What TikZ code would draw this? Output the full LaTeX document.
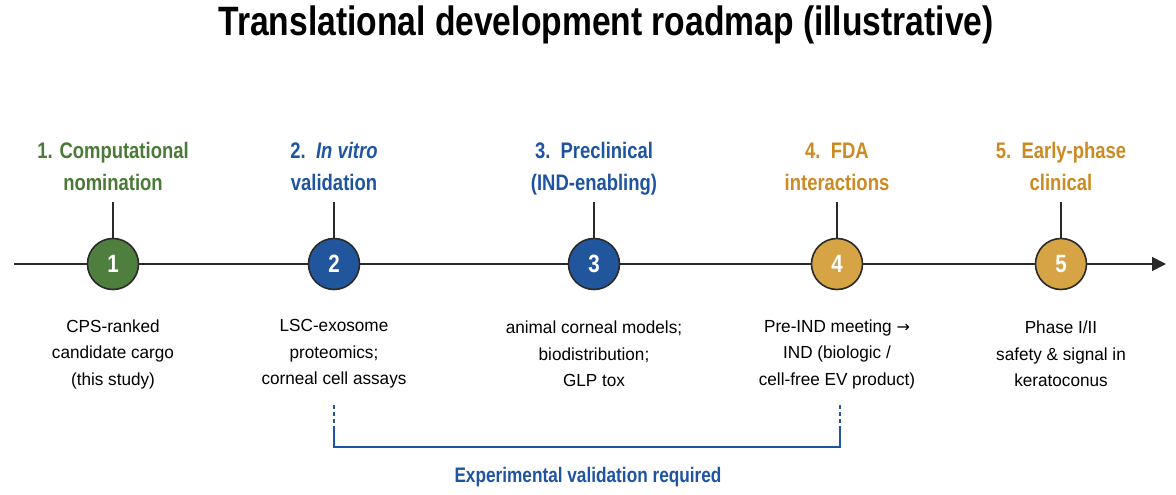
\documentclass[tikz,border=0pt]{standalone}
\usepackage{fontspec}
\setmainfont{Liberation Sans}
\newfontfamily\cond[FakeStretch=0.82]{Liberation Sans}
\newfontfamily\condr[FakeStretch=0.98]{Liberation Sans}
\newfontfamily\arrowfont{DejaVu Sans}
\usetikzlibrary{arrows.meta}
\definecolor{cgreen}{HTML}{4A7A38}
\definecolor{cgreenfill}{HTML}{4F7F3F}
\definecolor{cblue}{HTML}{1F55A0}
\definecolor{cbluefill}{HTML}{22569C}
\definecolor{corange}{HTML}{CC8A22}
\definecolor{corangefill}{HTML}{D6A444}
\definecolor{cline}{HTML}{2A2A2A}
\tikzset{
  milestone/.style={circle, draw=cline, line width=1.6pt, minimum size=51pt, inner sep=0pt,
    text=white, font=\cond\bfseries\fontsize{25}{25}\selectfont},
  phaselabel/.style={align=center, anchor=south, text depth=5pt, inner sep=0pt, font=\cond\bfseries\fontsize{22.5}{32}\selectfont},
  desc/.style={align=center, text=black, font=\condr\fontsize{17.5}{26.5}\selectfont},
  stem/.style={draw=cline, line width=1.4pt},
  axis/.style={draw=cline, line width=1.8pt},
  bracket/.style={draw=cblue, line width=1.4pt}
}
\begin{document}
\begin{tikzpicture}[x=1pt,y=-1pt]
\useasboundingbox (0,0) rectangle (1176,495);
\node[font=\cond\bfseries\fontsize{41}{41}\selectfont] (title) at (606,25) {Translational development roadmap (illustrative)};
% axis
\coordinate (axstart) at (14,264);
\coordinate (axend) at (1166,264);
\draw[axis,-{Triangle[length=14pt,width=14pt]}] (axstart) -- (axend);
% milestones
\node[milestone, fill=cgreenfill] (m1) at (113,264) {1};
\node[milestone, fill=cbluefill] (m2) at (334,264) {2};
\node[milestone, fill=cbluefill] (m3) at (594,264) {3};
\node[milestone, fill=corangefill] (m4) at (837,264) {4};
\node[milestone, fill=corangefill] (m5) at (1061,264) {5};
% labels
\node[phaselabel, text=cgreen] (l1) at (113,196) {1. Computational\\nomination};
\node[phaselabel, text=cblue] (l2) at (334,196) {2.\ \ \textit{In vitro}\\validation};
\node[phaselabel, text=cblue] (l3) at (594,196) {3.\ \ Preclinical\\(IND-enabling)};
\node[phaselabel, text=corange] (l4) at (837,196) {4.\ \ FDA\\interactions};
\node[phaselabel, text=corange] (l5) at (1061,196) {5.\ \ Early-phase\\clinical};
% stems
\foreach \i in {1,...,5} {
  \coordinate (s\i) at ([yshift=36pt]m\i.north);
  \draw[stem] (m\i.north) -- (s\i);
}
% descriptions
\node[desc] (d1) at (113,354) {CPS-ranked\\candidate cargo\\(this study)};
\node[desc] (d2) at (334,354) {LSC-exosome\\proteomics;\\corneal cell assays};
\node[desc] (d3) at (594,354) {animal corneal models;\\biodistribution;\\GLP tox};
\node[desc] (d4) at (837,354) {Pre-IND meeting {\arrowfont\fontsize{16}{16}\selectfont→}\\IND (biologic /\\cell-free EV product)};
\node[desc] (d5) at (1061,354) {Phase I/II\\safety \& signal in\\keratoconus};
% bracket
\coordinate (b1top) at (334,405);
\coordinate (b1mid) at (334,428);
\coordinate (b1bot) at (334,447);
\coordinate (b2top) at (840,405);
\coordinate (b2mid) at (840,428);
\coordinate (b2bot) at (840,447);
\draw[bracket, dash pattern=on 4pt off 3pt] (b1top) -- (b1mid);
\draw[bracket, dash pattern=on 4pt off 3pt] (b2top) -- (b2mid);
\draw[bracket] (b1mid) -- (b1bot) -- (b2bot) -- (b2mid);
\node[font=\cond\bfseries\fontsize{21}{21}\selectfont, text=cblue] (exp) at (588,477) {Experimental validation required};
\end{tikzpicture}
\end{document}
